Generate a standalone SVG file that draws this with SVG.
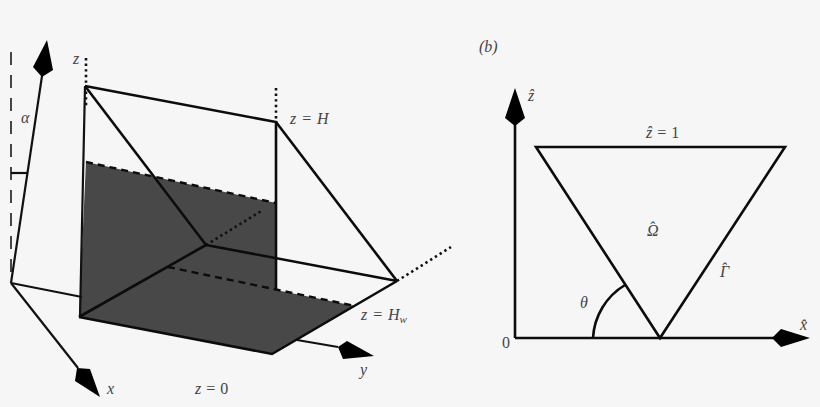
<svg xmlns="http://www.w3.org/2000/svg" width="820" height="407" viewBox="0 0 820 407">
<style>
.l{fill:none;stroke:#0c0c0c;stroke-width:2.6}
.t{fill:none;stroke:#111;stroke-width:2.2}
.dot{fill:none;stroke:#111;stroke-width:2.6;stroke-dasharray:2.4 3.2}
.dash{fill:none;stroke:#0c0c0c;stroke-width:2.4;stroke-dasharray:7 5}
.h{fill:#000;stroke:none}
text{font-family:"Liberation Serif","Times New Roman",serif;font-size:16px;fill:#444;word-spacing:1px}
.i{font-style:italic}
.n{font-style:normal}
</style>
<rect width="820" height="407" fill="#f6f6f6"/>
<g id="wedge-fill"><polygon points="86,162 276,203 276,290 355,306 272,354 79,317" fill="#484848"/></g>
<g id="connectors">
<path class="dash" style="stroke-width:1.5;stroke-dasharray:13 10" d="M11 52V283"/>
<path class="t" d="M11 173H27"/>
<path class="t" d="M42 76L11 283"/>
<path class="t" d="M11 283L82 297"/>
<path class="t" d="M11 283L78 368"/>
<path class="t" d="M297 340L338 347"/>
<path class="dot" d="M86 58V108"/>
<path class="dot" d="M276 88V122"/>
<path class="dot" d="M206 245L263 210"/>
<path class="dot" d="M397 281L451 247"/>
<path class="dash" d="M86 162L276 203"/>
<path class="dash" d="M168 267L355 306"/>
<path class="l" d="M85 86L276 122V290"/>
<path class="t" d="M85 86L80 317"/>
<path class="l" d="M85 86L206 245"/>
<path class="l" d="M276 122L397 281"/>
<path class="l" d="M206 245L397 281"/>
<path class="l" d="M79 317L206 245"/>
<path class="l" d="M79 317L272 354L397 281"/>
<path class="l" d="M515 338V122"/>
<path class="l" d="M515 338H775"/>
<path class="l" d="M536 147H785L660 338Z"/>
<path class="l" d="M593 338A66 66 0 0 1 625 285"/>
</g>
<g id="arrowheads">
<polygon class="h" points="47,40 53,70 42,77 33,67"/>
<polygon class="h" points="100,397 75,381 77,368 90,369"/>
<polygon class="h" points="374,356 343,359 338,347 347,341"/>
<polygon class="h" points="515,88 525,118 515,126 505,118"/>
<polygon class="h" points="810,338 781,347 772,338 781,329"/>
</g>
<g id="labels">
<text x="21" y="123" class="i">α</text>
<text x="73" y="64" class="i">z</text>
<text x="290" y="124" class="i">z = H</text>
<text x="361" y="320" class="i">z = H<tspan font-size="11" dy="3">w</tspan></text>
<text x="360" y="375" class="i">y</text>
<text x="107" y="394" class="i">x</text>
<text x="195" y="394"><tspan class="i">z</tspan> = 0</text>
<text x="479" y="52" class="i">(b)</text>
<text x="528" y="101" class="i">ẑ</text>
<text x="646" y="138" class="i">ẑ <tspan class="n">= 1</tspan></text>
<text x="647" y="236" class="i">Ω<tspan dx="-9.5" dy="-3">ˆ</tspan></text>
<text x="720" y="277" class="i">Γ<tspan dx="-8" dy="-3">ˆ</tspan></text>
<text x="580" y="308" class="i">θ</text>
<text x="502" y="348">0</text>
<text x="800" y="330" class="i">x̂</text>
</g>
</svg>
